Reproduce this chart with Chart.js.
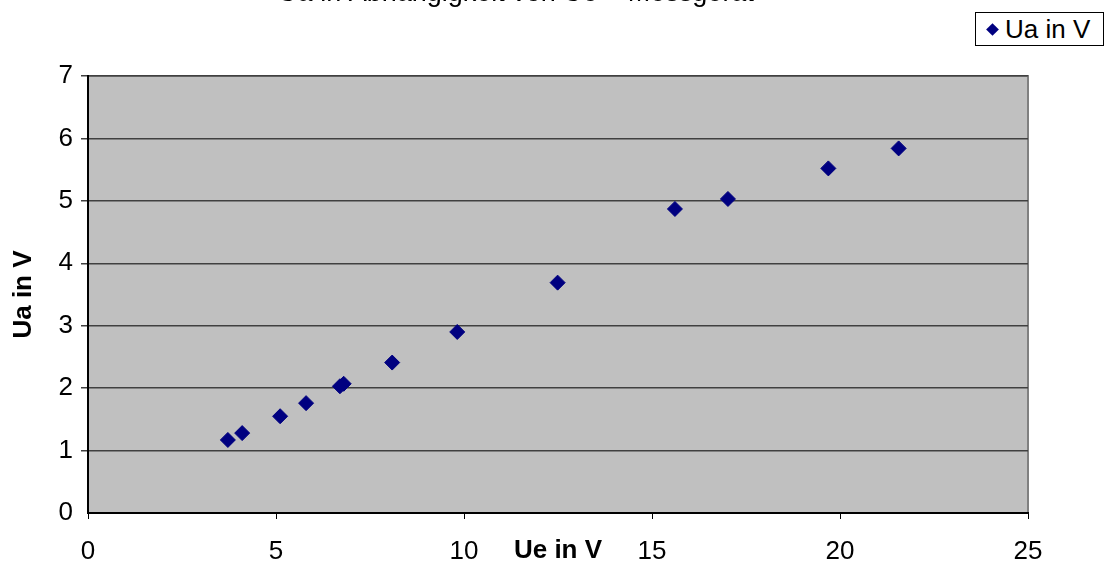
<!DOCTYPE html>
<html>
<head>
<meta charset="utf-8">
<script src="https://cdn.jsdelivr.net/npm/chart.js@4/dist/chart.umd.min.js"></script>
<style>
  html, body { margin: 0; padding: 0; background: #fff; }
  #wrap { position: relative; width: 1106px; height: 565px; overflow: hidden; }
  #legend {
    position: absolute; left: 975px; top: 12px; width: 127px; height: 32px;
    border: 1px solid #000; background: #fff; box-sizing: content-box;
    font-family: "Liberation Sans", Arial, sans-serif; font-size: 26px; color: #000;
    display: flex; align-items: center; white-space: nowrap;
  }
  #legend .mark {
    width: 9px; height: 9px; background: #000080; transform: rotate(45deg);
    margin-left: 12px; margin-right: 8px; flex: none;
  }
</style>
</head>
<body>
<div id="wrap">
  <canvas id="c" width="1106" height="565"></canvas>
  <div id="legend"><span class="mark"></span><span>Ua in V</span></div>
</div>
<script>
// Messwerte: Eingangsspannung Ue und Ausgangsspannung Ua (in Volt)
const ueValues = [3.72, 4.10, 5.11, 5.80, 6.70, 6.80, 8.09, 9.82, 12.49, 15.61, 17.02, 19.69, 21.56];
const uaValues = [1.17, 1.28, 1.55, 1.76, 2.03, 2.07, 2.41, 2.90, 3.69, 4.87, 5.03, 5.52, 5.84];
const seriesName = "Ua in V";
const chartTitle = "Ua in Abhängigkeit von Ue – Messgerät";
const xAxisTitle = "Ue in V";
const yAxisTitle = "Ua in V";
const xTicks = [0, 5, 10, 15, 20, 25];
const yTicks = [0, 1, 2, 3, 4, 5, 6, 7];

const points = ueValues.map((x, i) => ({ x: x, y: uaValues[i] }));

// grey plot background with a thin frame on top and right
const plotBackground = {
  id: 'plotBackground',
  beforeDraw(chart) {
    const { ctx, chartArea: a } = chart;
    ctx.save();
    ctx.fillStyle = '#c0c0c0';
    ctx.fillRect(a.left, a.top, a.right - a.left, a.bottom - a.top);
    ctx.strokeStyle = '#808080';
    ctx.lineWidth = 2;
    ctx.beginPath();
    ctx.moveTo(a.left, a.top);
    ctx.lineTo(a.right, a.top);
    ctx.lineTo(a.right, a.bottom);
    ctx.stroke();
    ctx.restore();
  }
};

// chart title and axis titles
const titles = {
  id: 'titles',
  afterDraw(chart) {
    const { ctx, chartArea: a } = chart;
    ctx.save();
    ctx.fillStyle = '#000';
    ctx.textAlign = 'center';
    ctx.textBaseline = 'alphabetic';
    ctx.font = '27px "Liberation Sans", Arial, sans-serif';
    ctx.fillText(chartTitle, 516, 1);

    ctx.font = 'bold 26px "Liberation Sans", Arial, sans-serif';
    ctx.textBaseline = 'middle';
    ctx.fillText(xAxisTitle, (a.left + a.right) / 2, 551);

    ctx.translate(24, (a.top + a.bottom) / 2);
    ctx.rotate(-Math.PI / 2);
    ctx.fillText(yAxisTitle, 0, 0);
    ctx.restore();
  }
};

new Chart(document.getElementById('c'), {
  type: 'scatter',
  data: {
    datasets: [{
      label: seriesName,
      data: points,
      pointStyle: 'rectRot',
      pointRadius: 7.5,
      pointHoverRadius: 7.5,
      backgroundColor: '#000080',
      borderColor: '#000080',
      borderWidth: 1
    }]
  },
  plugins: [plotBackground, titles],
  options: {
    responsive: false,
    animation: false,
    devicePixelRatio: 1,
    layout: { padding: { top: 76, right: 78, left: 0, bottom: 0 } },
    plugins: {
      legend: { display: false },
      title: { display: false },
      tooltip: { enabled: false }
    },
    scales: {
      x: {
        type: 'linear',
        min: 0, max: 25,
        afterFit(scale) { scale.height = 52; },
        afterBuildTicks(scale) { scale.ticks = xTicks.map(v => ({ value: v })); },
        border: { display: true, color: '#000', width: 2 },
        grid: { drawOnChartArea: false, drawTicks: true, tickLength: 6, color: '#000', lineWidth: 1 },
        ticks: {
          color: '#000',
          padding: 17,
          font: { family: '"Liberation Sans", Arial, sans-serif', size: 26 }
        }
      },
      y: {
        type: 'linear',
        min: 0, max: 7,
        afterFit(scale) { scale.width = 88; },
        afterBuildTicks(scale) { scale.ticks = yTicks.map(v => ({ value: v })); },
        border: { display: true, color: '#000', width: 2 },
        grid: {
          drawOnChartArea: true, drawTicks: true, tickLength: 7,
          color: (c) => c.tick && c.tick.value === 0 ? 'rgba(0,0,0,0)' : '#404040',
          lineWidth: 1.5
        },
        ticks: {
          color: '#000',
          padding: 8,
          font: { family: '"Liberation Sans", Arial, sans-serif', size: 26 }
        }
      }
    }
  }
});
</script>
</body>
</html>
